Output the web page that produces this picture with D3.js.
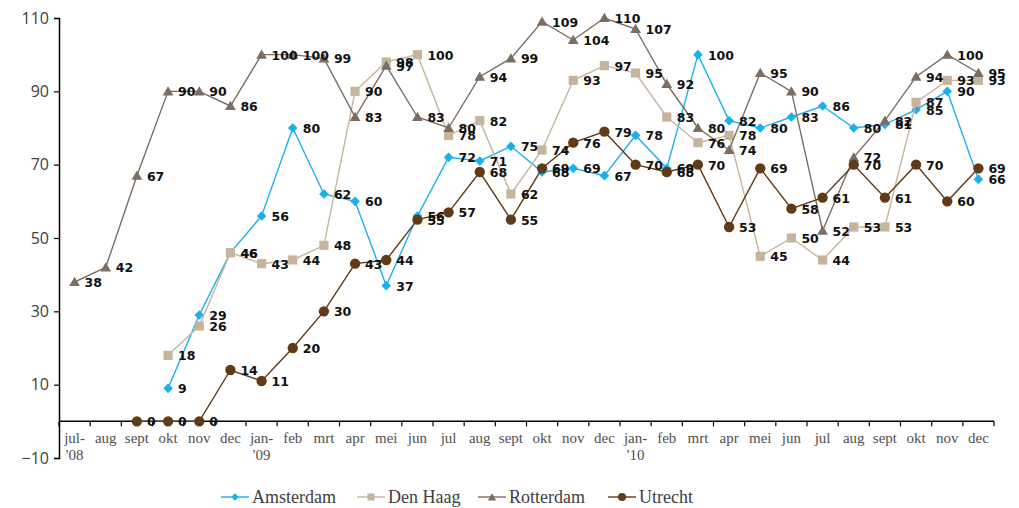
<!DOCTYPE html>
<html><head><meta charset="utf-8">
<script src="https://cdn.jsdelivr.net/npm/d3@7/dist/d3.min.js"></script>
<style>body{margin:0;background:#fff}svg{display:block}</style>
</head><body>
<svg id="c" width="1019" height="508"></svg>
<script>
const categories = ["jul-\n'08","aug","sept","okt","nov","dec","jan-\n'09","feb","mrt","apr","mei","jun","jul","aug","sept","okt","nov","dec","jan-\n'10","feb","mrt","apr","mei","jun","jul","aug","sept","okt","nov","dec"];
const amsterdam = [null,null,null,9,29,46,56,80,62,60,37,56,72,71,75,68,69,67,78,69,100,82,80,83,86,80,81,85,90,66];
const denHaag   = [null,null,null,18,26,46,43,44,48,90,98,100,78,82,62,74,93,97,95,83,76,78,45,50,44,53,53,87,93,93];
const rotterdam = [38,42,67,90,90,86,100,100,99,83,97,83,80,94,99,109,104,110,107,92,80,74,95,90,52,72,82,94,100,95];
const utrecht   = [null,null,0,0,0,14,11,20,30,43,44,55,57,68,55,69,76,79,70,68,70,53,69,58,61,70,61,70,60,69];
const yTicks = [-10,10,30,50,70,90,110];

const series = [
  {name:"Amsterdam", values:amsterdam, color:"#1AB0EC", marker:"diamond"},
  {name:"Den Haag", values:denHaag, color:"#C6B59C", marker:"square"},
  {name:"Rotterdam", values:rotterdam, color:"#7A6E62", marker:"triangle"},
  {name:"Utrecht", values:utrecht, color:"#613A16", marker:"circle"}
];

const svg = d3.select("#c");
const x = d3.scaleBand().domain(d3.range(categories.length)).range([59, 994]);
const y = d3.scaleLinear().domain([-10,110]).range([458, 18]);
const cx = i => x(i) + x.bandwidth()/2;

function markerPath(type, k){
  k = k || 1;
  if(type==="diamond") return d3.symbol(d3.symbolSquare, 46*k)();
  if(type==="square") return d3.symbol(d3.symbolSquare, 84*k)();
  if(type==="triangle") return d3.symbol(d3.symbolTriangle, 50*k)();
  return d3.symbol(d3.symbolCircle, 84*k)();
}
function markerTransform(type, px, py){
  if(type==="diamond") return `translate(${px},${py}) rotate(45)`;
  if(type==="triangle") return `translate(${px},${py+1})`;
  return `translate(${px},${py})`;
}

// Y axis
const yAxis = svg.append("g").attr("transform","translate(59,0)")
  .call(d3.axisLeft(y).tickValues(yTicks).tickSize(5).tickPadding(5));
yAxis.select(".domain").attr("stroke","#000").attr("stroke-width",1.5);
yAxis.selectAll(".tick line").attr("stroke","#000").attr("stroke-width",1.2);
yAxis.selectAll(".tick text").attr("fill","#404040").style("font-family","'Open Sans', 'Noto Sans', sans-serif").style("font-size","16px");

// X axis at y=0
const xAxisG = svg.append("g").attr("transform",`translate(0,${y(0)})`);
xAxisG.append("line").attr("x1",59).attr("x2",994).attr("stroke","#000").attr("stroke-width",1.5);
xAxisG.selectAll("line.t").data(d3.range(categories.length+1)).join("line").attr("class","t")
  .attr("x1",i=> i<categories.length ? x(i) : x(categories.length-1)+x.bandwidth())
  .attr("x2",i=> i<categories.length ? x(i) : x(categories.length-1)+x.bandwidth())
  .attr("y1",0).attr("y2",5).attr("stroke","#000").attr("stroke-width",1.2);
const xl = xAxisG.selectAll("text.xl").data(categories).join("text").attr("class","xl")
  .attr("x",(d,i)=>cx(i)).attr("y",22).attr("text-anchor","middle")
  .attr("fill","#505050").style("font-family","'Liberation Serif', serif").style("font-size","15px");
xl.each(function(d){
  const parts = d.split("\n");
  const t = d3.select(this);
  parts.forEach((p,k)=>{ t.append("tspan").attr("x",t.attr("x")).attr("dy",k===0?0:16.5).text(p); });
});

// Lines
const line = d3.line().defined(d=>d.v!==null).x(d=>cx(d.i)).y(d=>y(d.v));
series.forEach(s=>{
  const pts = s.values.map((v,i)=>({v,i}));
  svg.append("path").datum(pts).attr("d",line).attr("fill","none").attr("stroke",s.color).attr("stroke-width",1.4);
  svg.append("g").selectAll("path").data(pts.filter(d=>d.v!==null)).join("path")
    .attr("d",markerPath(s.marker)).attr("transform",d=>markerTransform(s.marker,cx(d.i),y(d.v)))
    .attr("fill",s.color);
});
// Labels
series.forEach(s=>{
  const pts = s.values.map((v,i)=>({v,i})).filter(d=>d.v!==null);
  svg.append("g").selectAll("text").data(pts).join("text")
    .attr("x",d=>cx(d.i)+10).attr("y",d=>y(d.v)+5)
    .style("font-family","'DejaVu Sans', Verdana, sans-serif").style("font-weight","bold").style("font-size","12.5px")
    .attr("fill","#111").text(d=>d.v);
});

// Legend
const legX = [221, 357, 478, 608];
const lg = svg.append("g");
series.forEach((s,k)=>{
  const g = lg.append("g").attr("transform",`translate(${legX[k]},497)`);
  g.append("line").attr("x1",0).attr("x2",28).attr("stroke",s.color).attr("stroke-width",1.4);
  g.append("path").attr("d",markerPath(s.marker,0.6)).attr("transform",markerTransform(s.marker,14,0)).attr("fill",s.color);
  g.append("text").attr("x",31).attr("y",6).text(s.name).attr("fill","#404040")
    .style("font-family","'Liberation Serif', serif").style("font-size","18px");
});
</script>
</body></html>
